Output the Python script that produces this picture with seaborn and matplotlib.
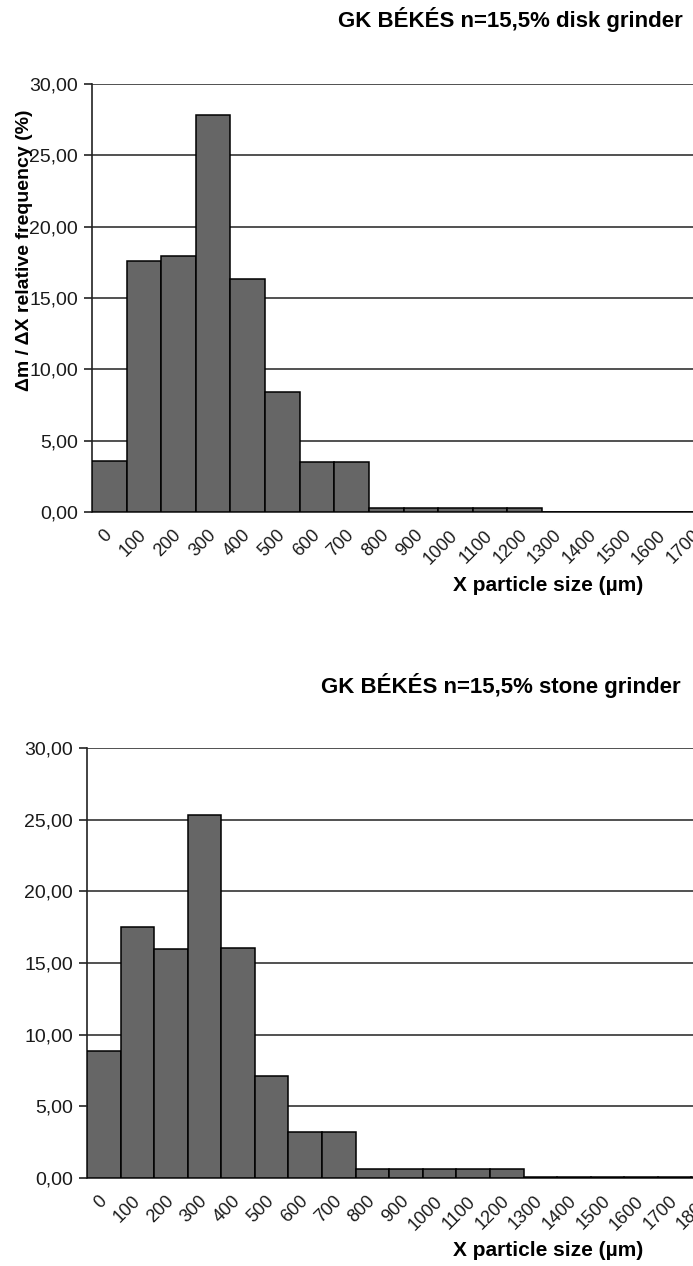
import pandas as pd
import matplotlib.pyplot as plt
import seaborn as sns

# particle size classes (um)
sizes_disk = [0, 100, 200, 300, 400, 500, 600, 700, 800, 900, 1000, 1100, 1200,
              1300, 1400, 1500, 1600, 1700]
freq_disk = [3.60, 17.62, 17.94, 27.83, 16.33, 8.39, 3.48, 3.48, 0.28, 0.28, 0.28,
             0.28, 0.28, 0.0, 0.0, 0.0, 0.0, 0.0]

sizes_stone = [0, 100, 200, 300, 400, 500, 600, 700, 800, 900, 1000, 1100, 1200,
               1300, 1400, 1500, 1600, 1700, 1800]
freq_stone = [8.87, 17.48, 15.95, 25.35, 16.04, 7.15, 3.20, 3.20, 0.60, 0.60, 0.60,
              0.60, 0.60, 0.05, 0.05, 0.05, 0.05, 0.05, 0.05]

title_disk = "GK BÉKÉS n=15,5% disk grinder"
title_stone = "GK BÉKÉS n=15,5% stone grinder"
ylabel = "Δm / ΔX relative frequency (%)"
xlabel = "X particle size (µm)"

sns.set_theme(style="white")
plt.rcParams['font.family'] = ['Liberation Sans', 'DejaVu Sans']

fig = plt.figure(figsize=(6.93, 12.66), dpi=100)
# axes run past the right edge, the original picture is cut off there
ax1 = fig.add_axes([92/693, 1 - 512/1266, 623/693, 428/1266])
ax2 = fig.add_axes([87/693, 1 - 1178/1266, 638/693, 430/1266])


def draw(ax, sizes, freq):
    df = pd.DataFrame({'size': [str(s) for s in sizes], 'freq': freq})
    sns.barplot(data=df, x='size', y='freq', color='#666666', width=1.0,
                saturation=1, edgecolor='black', linewidth=1.1, ax=ax, zorder=3)
    n = len(sizes)
    ax.set_xlim(-0.5, n - 0.5)
    ax.set_ylim(0, 30)
    ax.set_yticks([0, 5, 10, 15, 20, 25, 30])
    ax.set_yticklabels(['{:.2f}'.format(v).replace('.', ',') for v in [0, 5, 10, 15, 20, 25, 30]],
                       fontsize=14, color='#1a1a1a')
    ax.yaxis.grid(True, color='#333333', linewidth=1.2, zorder=0)
    ax.set_axisbelow(True)
    ax.set_xticks(range(n))
    ax.set_xticklabels([str(s) for s in sizes], rotation=45, ha='right', va='center',
                       rotation_mode='anchor', fontsize=13, color='#1a1a1a')
    ax.tick_params(axis='x', which='major', length=0, pad=15)
    ax.set_xticks([i - 0.5 for i in range(n + 1)], minor=True)
    ax.tick_params(axis='x', which='minor', length=6, width=1.2, color='#222222', direction='out')
    ax.tick_params(axis='y', length=6, width=1.2, color='#222222', direction='out', pad=4, left=True)
    for s in ['top', 'right']:
        ax.spines[s].set_visible(False)
    for s in ['left', 'bottom']:
        ax.spines[s].set_color('#222222')
        ax.spines[s].set_linewidth(1.2)
    ax.set_xlabel('')
    ax.set_ylabel('')


draw(ax1, sizes_disk, freq_disk)
draw(ax2, sizes_stone, freq_stone)

# y label sits over the tick labels, as in the original
fig.text(25/693, 1 - 250/1266, ylabel, rotation=90, ha='center', va='center',
         fontsize=14, fontweight='bold', color='black')

fig.text(683/693, 1 - 20/1266, title_disk, ha='right', va='center',
         fontsize=16, fontweight='bold', color='black')
fig.text(681/693, 1 - 685/1266, title_stone, ha='right', va='center',
         fontsize=16, fontweight='bold', color='black')
fig.text(548/693, 1 - 585/1266, xlabel, ha='center', va='center',
         fontsize=15, fontweight='bold', color='black')
fig.text(548/693, 1 - 1250/1266, xlabel, ha='center', va='center',
         fontsize=15, fontweight='bold', color='black')

plt.savefig('out.png', dpi=100)
